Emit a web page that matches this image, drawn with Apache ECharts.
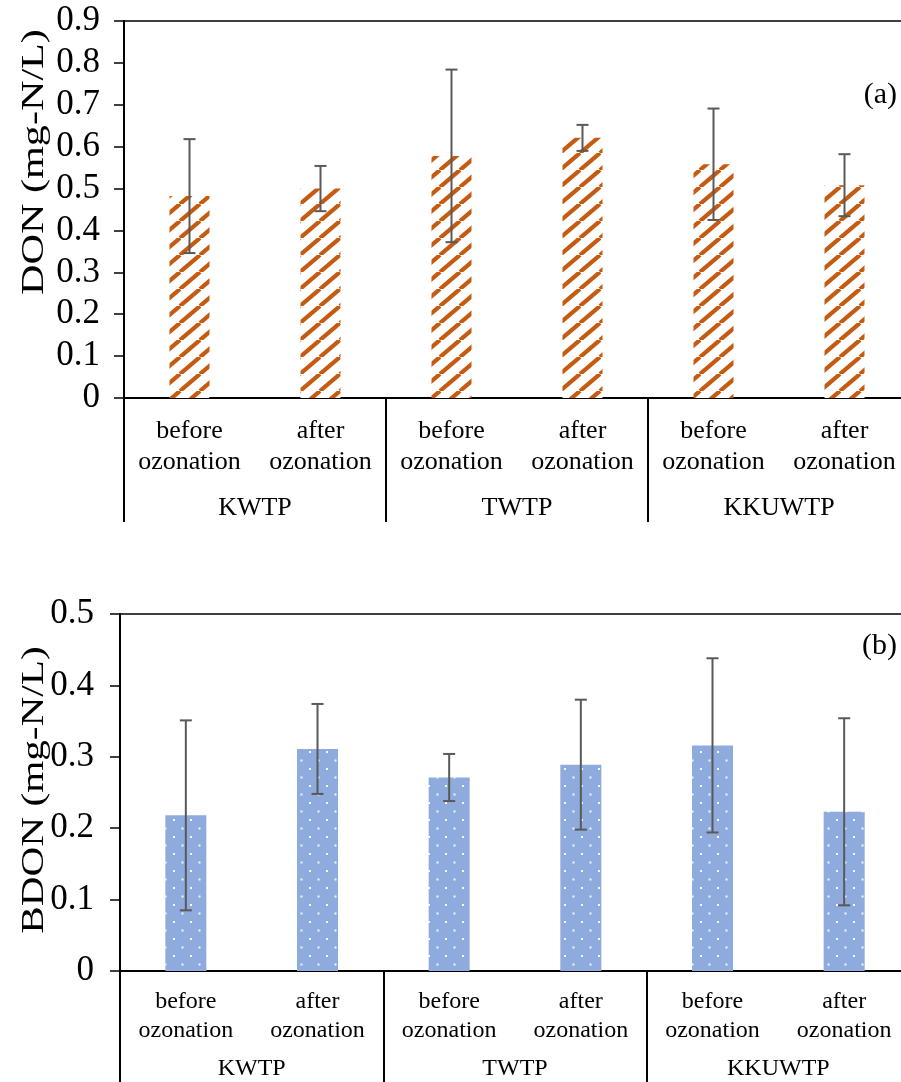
<!DOCTYPE html>
<html>
<head>
<meta charset="utf-8">
<script src="https://cdn.jsdelivr.net/npm/echarts@6/dist/echarts.min.js"></script>
<style>
  html, body { margin: 0; padding: 0; background: #fff; }
  #main { width: 901px; height: 1082px; }
</style>
</head>
<body>
<div id="main"></div>
<script>
// data
var plants = ['KWTP', 'TWTP', 'KKUWTP'];
var stages = ['before\nozonation', 'after\nozonation'];
var donMean = [0.482, 0.500, 0.578, 0.621, 0.558, 0.508];
var donErr = [0.136, 0.054, 0.206, 0.031, 0.133, 0.074];
var bdonMean = [0.218, 0.311, 0.271, 0.289, 0.316, 0.223];
var bdonErr = [0.133, 0.063, 0.033, 0.091, 0.122, 0.131];

var FONT = '"Liberation Serif", "Times New Roman", serif';

// one key per bar, label text is taken after the '|'
var cats = [];
plants.forEach(function (p) {
    stages.forEach(function (s) { cats.push(p + '|' + s); });
});

// orange hatch fill
function hatchPattern() {
    var w = 20, h = 17;
    var c = document.createElement('canvas');
    c.width = w; c.height = h;
    var ctx = c.getContext('2d');
    ctx.fillStyle = '#ffffff';
    ctx.fillRect(0, 0, w, h);
    ctx.strokeStyle = '#C55A11';
    ctx.lineWidth = 4.2;
    for (var k = -1; k <= 1; k++) {
        ctx.beginPath();
        ctx.moveTo(k * w, h);
        ctx.lineTo((k + 1) * w, 0);
        ctx.stroke();
    }
    return c;
}
// blue fill with small white dots
function dotPattern() {
    var s = 17;
    var c = document.createElement('canvas');
    c.width = s; c.height = s;
    var ctx = c.getContext('2d');
    ctx.fillStyle = '#8FAADC';
    ctx.fillRect(0, 0, s, s);
    ctx.fillStyle = 'rgba(255,255,255,0.9)';
    ctx.fillRect(3, 3, 2, 2);
    ctx.fillRect(11.5, 11.5, 2, 2);
    return c;
}

function errRender(params, api) {
    var x = api.value(0);
    var top = api.coord([x, api.value(2)]);
    var bot = api.coord([x, api.value(1)]);
    var hw = 6;
    var st = { stroke: '#595959', lineWidth: 2 };
    return {
        type: 'group',
        children: [
            { type: 'line', shape: { x1: top[0], y1: top[1], x2: bot[0], y2: bot[1] }, style: st },
            { type: 'line', shape: { x1: top[0] - hw, y1: top[1], x2: top[0] + hw, y2: top[1] }, style: st },
            { type: 'line', shape: { x1: bot[0] - hw, y1: bot[1], x2: bot[0] + hw, y2: bot[1] }, style: st }
        ]
    };
}
function errData(mean, err) {
    return mean.map(function (m, i) { return [i, m - err[i], m + err[i]]; });
}

function yLabel(v) { return v === 0 ? '0' : v.toFixed(1); }

var myChart = echarts.init(document.getElementById('main'));
var option = {
    animation: false,
    backgroundColor: '#fff',
    textStyle: { fontFamily: FONT, color: '#000' },
    grid: [
        { left: 124, top: 21, width: 786, height: 377, show: true, borderColor: '#000', borderWidth: 1.5, outerBoundsMode: 'none', containLabel: false },
        { left: 120, top: 614, width: 790, height: 357, show: true, borderColor: '#000', borderWidth: 1.5, outerBoundsMode: 'none', containLabel: false }
    ],
    xAxis: [
        {
            gridIndex: 0, type: 'category', data: cats, position: 'bottom',
            axisLine: { lineStyle: { color: '#000', width: 2 } },
            axisTick: { show: false },
            axisLabel: {
                interval: 0, margin: 18, fontSize: 26, lineHeight: 31, color: '#000', fontFamily: FONT,
                formatter: function (v) { return v.split('|')[1]; }
            }
        },
        {
            gridIndex: 0, type: 'category', data: plants, position: 'bottom',
            axisLine: { show: false },
            axisTick: { show: true, length: 124, lineStyle: { color: '#000', width: 2 } },
            axisLabel: { interval: 0, margin: 97, fontSize: 26, color: '#000', fontFamily: FONT }
        },
        {
            gridIndex: 1, type: 'category', data: cats, position: 'bottom',
            axisLine: { lineStyle: { color: '#000', width: 2 } },
            axisTick: { show: false },
            axisLabel: {
                interval: 0, margin: 16, fontSize: 24, lineHeight: 29, color: '#000', fontFamily: FONT,
                formatter: function (v) { return v.split('|')[1]; }
            }
        },
        {
            gridIndex: 1, type: 'category', data: plants, position: 'bottom',
            axisLine: { show: false },
            axisTick: { show: true, length: 120, lineStyle: { color: '#000', width: 2 } },
            axisLabel: { interval: 0, margin: 86, fontSize: 24, color: '#000', fontFamily: FONT }
        }
    ],
    yAxis: [
        {
            gridIndex: 0, type: 'value', min: 0, max: 0.9, interval: 0.1,
            axisLine: { show: true, lineStyle: { color: '#000', width: 2 } },
            axisTick: { show: true, length: 10, lineStyle: { color: '#000', width: 1.5 } },
            splitLine: { show: false },
            axisLabel: { margin: 24, fontSize: 35, color: '#000', fontFamily: FONT, formatter: yLabel }
        },
        {
            gridIndex: 1, type: 'value', min: 0, max: 0.5, interval: 0.1,
            axisLine: { show: true, lineStyle: { color: '#000', width: 2 } },
            axisTick: { show: true, length: 10, lineStyle: { color: '#000', width: 1.5 } },
            splitLine: { show: false },
            axisLabel: { margin: 26, fontSize: 35, color: '#000', fontFamily: FONT, formatter: yLabel }
        }
    ],
    graphic: [
        { type: 'text', x: 35, y: 162, rotation: Math.PI / 2, scaleX: 1.36,
          style: { text: 'DON (mg-N/L)', font: '31px ' + FONT, fill: '#000', textAlign: 'center', textVerticalAlign: 'middle' } },
        { type: 'text', x: 35, y: 790, rotation: Math.PI / 2, scaleX: 1.33,
          style: { text: 'BDON (mg-N/L)', font: '31px ' + FONT, fill: '#000', textAlign: 'center', textVerticalAlign: 'middle' } },
        { type: 'text', x: 897, y: 95,
          style: { text: '(a)', font: '30px ' + FONT, fill: '#000', textAlign: 'right', textVerticalAlign: 'middle' } },
        { type: 'text', x: 897, y: 646,
          style: { text: '(b)', font: '30px ' + FONT, fill: '#000', textAlign: 'right', textVerticalAlign: 'middle' } }
    ],
    series: [
        {
            name: 'DON', type: 'bar', xAxisIndex: 0, yAxisIndex: 0, barWidth: 40,
            data: donMean,
            itemStyle: { color: { image: hatchPattern(), repeat: 'repeat' } }
        },
        {
            name: 'DON err', type: 'custom', xAxisIndex: 0, yAxisIndex: 0,
            data: errData(donMean, donErr), encode: { x: 0, y: [1, 2] },
            renderItem: errRender, z: 10
        },
        {
            name: 'BDON', type: 'bar', xAxisIndex: 2, yAxisIndex: 1, barWidth: 41,
            data: bdonMean,
            itemStyle: { color: { image: dotPattern(), repeat: 'repeat' } }
        },
        {
            name: 'BDON err', type: 'custom', xAxisIndex: 2, yAxisIndex: 1,
            data: errData(bdonMean, bdonErr), encode: { x: 0, y: [1, 2] },
            renderItem: errRender, z: 10
        }
    ]
};
myChart.setOption(option);
</script>
</body>
</html>
